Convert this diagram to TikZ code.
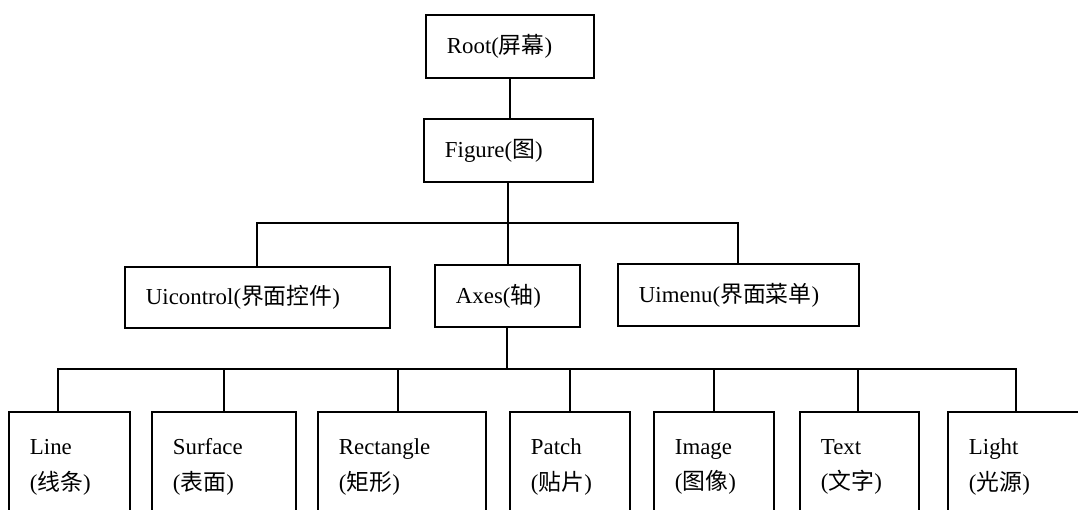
\documentclass[tikz,border=0pt]{standalone}
\usepackage{fontspec}
\setmainfont{Liberation Serif}
\newfontfamily\cjkfont{Noto Sans CJK SC}
\newcommand{\hanzi}[1]{{\cjkfont #1}}
\usetikzlibrary{calc}
\tikzset{
	boite/.style={draw, line width=1.1pt, anchor=north west, align=left, inner xsep=.42cm,
		font=\fontsize{13pt}{20.4pt}\selectfont},
	bas/.style={boite, minimum height=2.2cm},
	trait/.style={line width=1.1pt}
}
\begin{document}
\begin{tikzpicture}[x=.02cm,y=-.02cm]
		\useasboundingbox (0,0) rectangle (1078,510);
		\clip (0,0) rectangle (1078,510);
		
		\node[boite, text width=2.52cm, minimum height=1.26cm] (root) at (425,14) {Root(\hanzi{屏幕})};
		\node[boite, text width=2.54cm, minimum height=1.26cm] (figure) at (423,118) {Figure(\hanzi{图})};
		
		\node[boite, text width=4.46cm, minimum height=1.22cm] (uicontrol) at (124,266) {Uicontrol(\hanzi{界面控件})};
		\node[boite, text width=2.06cm, minimum height=1.24cm] (axes) at (434,264) {Axes(\hanzi{轴})};
		\node[boite, text width=3.98cm, minimum height=1.24cm] (uimenu) at (617,263) {Uimenu(\hanzi{界面菜单})};
		
		%objets de Axes
		\node[bas, text width=1.58cm] (line) at (8,411) {Line\\(\hanzi{线条})};
		\node[bas, text width=2.04cm] (surface) at (151,411) {Surface\\(\hanzi{表面})};
		\node[bas, text width=2.52cm] (rectangle) at (317,411) {Rectangle\\(\hanzi{矩形})};
		\node[bas, text width=1.56cm] (patch) at (509,411) {Patch\\(\hanzi{贴片})};
		\node[bas, text width=1.56cm] (image) at (653,411) {Image\\(\hanzi{图像})};
		\node[bas, text width=1.54cm] (textobj) at (799,411) {Text\\(\hanzi{文字})};
		\node[bas, text width=1.88cm] (light) at (947,411) {Light\\(\hanzi{光源})};
		
		\draw[trait] (root.south) -- (root.south |- figure.north);
		
		\coordinate (bus1) at ($(figure.south)!.5!(axes.north)$);
		\draw[trait] (figure.south) -- (figure.south |- axes.north);
		\draw[trait] (uicontrol.north) -- (uicontrol.north |- bus1) -- (uimenu.north |- bus1) -- (uimenu.north);
		
		\coordinate (bus2) at ($(axes.south)!.5!(patch.north)$);
		\draw[trait] (axes.south) -- (axes.south |- bus2);
		\draw[trait] ([xshift=-.22cm]line.north) -- ([xshift=-.22cm]line.north |- bus2) -- (light.north |- bus2) -- (light.north);%bus
		\foreach \n/\d in {surface/0,rectangle/-.08,patch/0,image/0,textobj/-.03}{
			\draw[trait] ([xshift=\d cm]\n.north) -- ([xshift=\d cm]\n.north |- bus2); }
		
	\end{tikzpicture}
\end{document}
